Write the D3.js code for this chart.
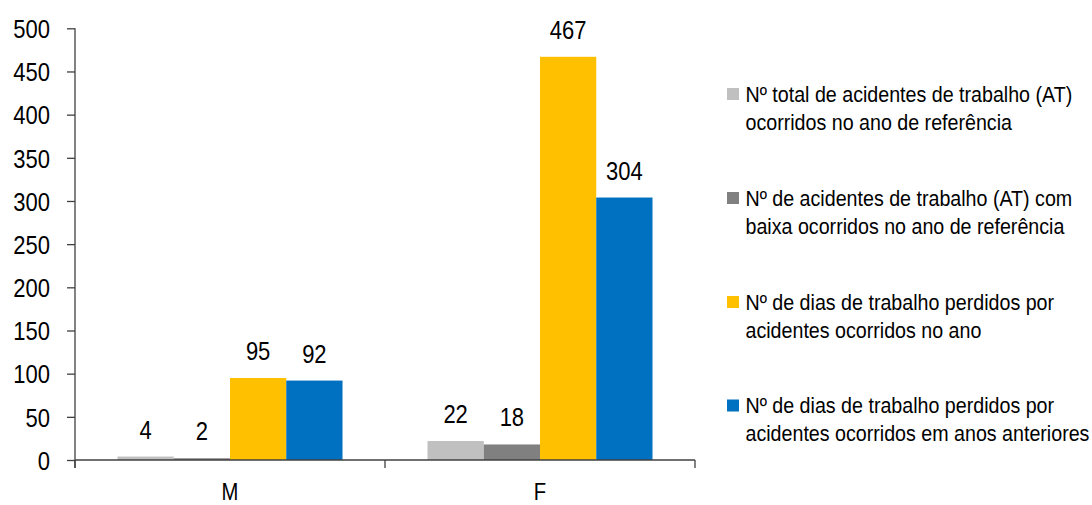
<!DOCTYPE html>
<html><head><meta charset="utf-8">
<script src="https://cdn.jsdelivr.net/npm/d3@7"></script>
<style>
html,body{margin:0;padding:0;background:#fff;}
text{font-family:"Liberation Sans",Arial,sans-serif;fill:#000;}
</style></head>
<body>
<svg id="c" width="1092" height="505"></svg>
<script>
const categories = ["M", "F"];
const seriesNames = [
  ["Nº total de acidentes de trabalho (AT)", "ocorridos no ano de referência"],
  ["Nº de acidentes de trabalho (AT) com", "baixa ocorridos no ano de referência"],
  ["Nº de dias de trabalho perdidos por", "acidentes ocorridos no ano"],
  ["Nº de dias de trabalho perdidos por", "acidentes ocorridos em anos anteriores"]
];
const totalAT = [4, 22];
const atComBaixa = [2, 18];
const diasAno = [95, 467];
const diasAnteriores = [92, 304];
const yTicks = [0, 50, 100, 150, 200, 250, 300, 350, 400, 450, 500];
const colors = ["#c0c0c0", "#808080", "#ffc000", "#0070c0"];

const series = [totalAT, atComBaixa, diasAno, diasAnteriores];
const svg = d3.select("#c");
const NUMK = 0.88;

// narrow text: group translated to anchor, scaled horizontally
function narrowText(parent, x, y, str, size, anchor, k) {
  const gg = parent.append("g").attr("transform", `translate(${x},${y}) scale(${k},1)`);
  return gg.append("text").attr("x", 0).attr("y", 0).attr("font-size", size)
    .attr("text-anchor", anchor).text(str);
}

const x0 = d3.scaleBand().domain(categories).range([75, 695]).paddingInner(0).paddingOuter(0);
const x1 = d3.scaleBand().domain(d3.range(series.length)).range([42.5, x0.bandwidth() - 42.5]).padding(0);
const y = d3.scaleLinear().domain([0, 500]).range([460, 28.3]);

// y axis
const yAxis = svg.append("g").attr("transform", "translate(75,0)")
  .call(d3.axisLeft(y).tickValues(yTicks).tickSize(8).tickFormat(d3.format("d")));
yAxis.select(".domain").attr("d", "M0,28.3V468").attr("stroke", "#404040").attr("stroke-width", 1.3);
yAxis.selectAll(".tick line").attr("stroke", "#404040").attr("stroke-width", 1.3);
yAxis.selectAll(".tick text").attr("font-size", 25).attr("dy", "0.37em")
  .attr("text-anchor", "end")
  .attr("x", -25 / NUMK)
  .attr("transform", `scale(${NUMK},1)`);

// bars
const g = svg.append("g");
categories.forEach((cat, ci) => {
  series.forEach((s, si) => {
    g.append("rect")
      .attr("x", x0(cat) + x1(si))
      .attr("y", y(s[ci]))
      .attr("width", x1.bandwidth())
      .attr("height", y(0) - y(s[ci]))
      .attr("fill", colors[si]);
    narrowText(g, x0(cat) + x1(si) + x1.bandwidth() / 2, y(s[ci]) - 18, s[ci], 25, "middle", NUMK);
  });
});

// x axis
const xAxis = svg.append("g").attr("transform", "translate(0,460)")
  .call(d3.axisBottom(x0).tickSize(0).tickPadding(0));
xAxis.select(".domain").attr("d", "M75,0H695").attr("stroke", "#404040").attr("stroke-width", 1.3);
xAxis.selectAll(".tick text").attr("font-size", 23).attr("y", 40).attr("dy", 0)
  .attr("transform", `scale(${NUMK},1)`);
[75, 385, 695].forEach(px => {
  xAxis.append("line").attr("x1", px).attr("x2", px).attr("y1", 0).attr("y2", 8)
    .attr("stroke", "#404040").attr("stroke-width", 1.3);
});

// legend
const lg = svg.append("g");
const legendY = [101.5, 205.5, 309.5, 413];
// measure first line to derive horizontal condensing factor
const probe = svg.append("text").attr("font-size", 22.5).text(seriesNames[0][0]);
const LEGK = 327 / probe.node().getComputedTextLength();
probe.remove();
seriesNames.forEach((lines, i) => {
  lg.append("rect").attr("x", 727).attr("y", legendY[i] - 13.5).attr("width", 12).attr("height", 12)
    .attr("fill", colors[i]);
  lines.forEach((ln, li) => {
    narrowText(lg, 745.5, legendY[i] + li * 28, ln, 22.5, "start", LEGK);
  });
});
</script>
</body></html>
